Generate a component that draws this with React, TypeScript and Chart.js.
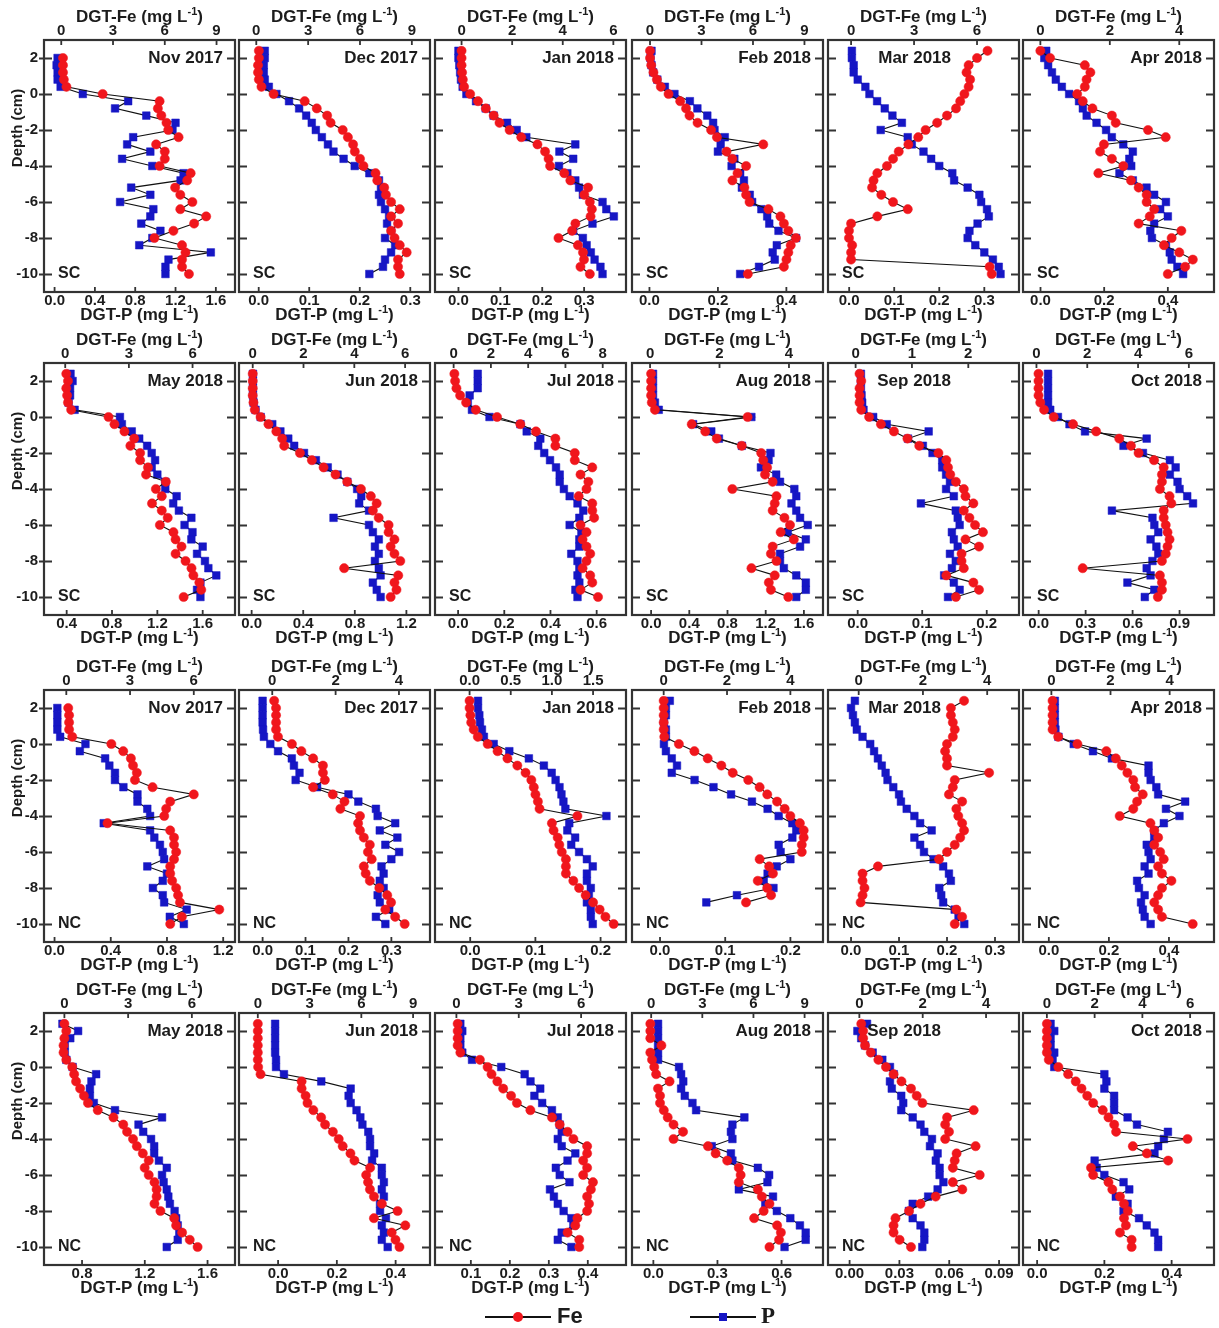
import React, { useEffect, useRef } from 'react';
import { Chart, registerables } from 'chart.js';

Chart.register(...registerables);

const FONT = '"Liberation Sans", Arial, Helvetica, sans-serif';
Chart.defaults.font.family = FONT;

const RED = '#f0161c';
const BLUE = '#1616c4';
const INK = '#1c1c1c';
const FRAME = '#333333';

// sampling depths (cm), shared by every profile
const DEPTHS = [2.4, 2.0, 1.6, 1.2, 0.8, 0.4, 0.0, -0.4, -0.8, -1.2, -1.6, -2.0, -2.4, -2.8, -3.2, -3.6,
  -4.0, -4.4, -4.8, -5.2, -5.6, -6.0, -6.4, -6.8, -7.2, -7.6, -8.0, -8.4, -8.8, -9.2, -9.6, -10.0];
const DEPTH_TICKS = [2, 0, -2, -4, -6, -8, -10];
const MONTHS = ['Nov 2017', 'Dec 2017', 'Jan 2018', 'Feb 2018', 'Mar 2018', 'Apr 2018',
  'May 2018', 'Jun 2018', 'Jul 2018', 'Aug 2018', 'Sep 2018', 'Oct 2018'];
const SITES = ['SC', 'NC'];

// ---------- SC ----------
const feSC_Nov17 = [null, 0.1, 0.1, 0.1, 0.15, 0.3, 2.4, 5.7, 5.6, 5.8, 6.1, 6.2, 6.8, 5.5, 6.0, 6.0, 5.7, 7.5, 7.3, 6.6, 6.9, 7.6, 6.9, 8.4, 7.7, 6.5, 5.4, 7.0, 7.2, 7.0, 7.0, 7.4];
const pSC_Nov17 = [null, 0.03, 0.02, 0.03, 0.03, 0.06, 0.28, 0.73, 0.6, 0.91, 1.2, 1.17, 0.78, 0.72, 0.95, 0.67, 0.97, 1.28, 1.25, 0.76, 0.95, 0.65, 0.98, 0.95, 0.86, 1.05, 0.97, 0.84, 1.55, 1.13, 1.1, 1.1];
const feSC_Dec17 = [0.15, 0.15, 0.1, 0.1, 0.15, 0.3, 1.0, 2.8, 3.5, 4.1, 4.3, 5.0, 5.3, 5.6, 5.7, 6.0, 6.2, 6.9, 7.0, 7.4, 7.5, 7.8, 8.3, 7.8, 8.2, 7.8, 8.0, 8.3, 8.7, 8.2, 8.2, 8.3];
const pSC_Dec17 = [0.012, 0.012, 0.01, 0.01, 0.012, 0.02, 0.035, 0.06, 0.08, 0.094, 0.105, 0.113, 0.125, 0.137, 0.148, 0.168, 0.19, 0.219, 0.238, 0.242, 0.238, 0.242, 0.25, 0.258, 0.254, 0.262, 0.25, 0.27, 0.262, 0.25, 0.246, 0.219];
const feSC_Jan18 = [0.0, 0.0, 0.0, 0.02, 0.05, 0.1, 0.34, 0.65, 0.96, 1.27, 1.5, 1.9, 2.36, 3.0, 3.3, 3.44, 3.5, 4.06, 4.3, 5.0, 4.85, 5.07, 5.15, 5.1, 4.5, 4.37, 3.83, 4.6, 4.8, 4.84, 4.7, 5.07];
const pSC_Jan18 = [0.0, 0.0, 0.002, 0.004, 0.006, 0.01, 0.019, 0.042, 0.065, 0.084, 0.116, 0.139, 0.162, 0.279, 0.241, 0.274, 0.24, 0.26, 0.279, 0.288, 0.297, 0.344, 0.353, 0.371, 0.32, 0.274, 0.297, 0.306, 0.316, 0.325, 0.339, 0.344];
const feSC_Feb18 = [0.0, 0.0, 0.07, 0.2, 0.4, 0.63, 1.08, 1.76, 2.1, 2.3, 2.77, 3.56, 3.9, 6.6, 4.46, 4.8, 5.6, 5.1, 4.8, 5.5, 5.6, 5.8, 6.9, 7.6, 7.8, 8.06, 8.5, 8.2, 8.06, 7.95, 7.8, 5.7];
const pSC_Feb18 = [0.006, 0.003, 0.006, 0.011, 0.023, 0.045, 0.073, 0.118, 0.14, 0.169, 0.186, 0.19, 0.22, 0.208, 0.2, 0.248, 0.24, 0.265, 0.276, 0.27, 0.293, 0.3, 0.327, 0.344, 0.35, 0.377, 0.428, 0.372, 0.36, 0.366, 0.32, 0.265];
const feSC_Mar18 = [6.5, 6.0, 5.6, 5.5, 5.67, 5.6, 5.4, 5.2, 5.0, 4.57, 4.1, 3.55, 3.2, 2.73, 2.27, 2.0, 1.71, 1.25, 1.07, 1.0, 1.44, 2.0, 2.7, 1.25, 0.0, -0.1, -0.1, 0.05, 0.0, 0.0, 6.6, 6.7];
const pSC_Mar18 = [0.006, 0.006, 0.01, 0.01, 0.019, 0.036, 0.045, 0.062, 0.079, 0.096, 0.117, 0.07, 0.13, 0.139, 0.165, 0.182, 0.2, 0.229, 0.233, 0.263, 0.289, 0.293, 0.306, 0.31, 0.285, 0.267, 0.263, 0.28, 0.3, 0.319, 0.332, 0.336];
const feSC_Apr18 = [0.0, 0.28, 1.28, 1.44, 1.33, 1.28, 1.06, 1.22, 1.5, 2.06, 2.17, 3.1, 3.61, 1.83, 1.72, 2.06, 2.39, 1.67, 2.61, 2.83, 3.06, 3.06, 3.28, 3.15, 2.83, 4.06, 3.78, 3.56, 4.0, 4.39, 4.17, 3.67];
const pSC_Apr18 = [0.018, 0.012, 0.024, 0.036, 0.048, 0.067, 0.09, 0.121, 0.133, 0.145, 0.176, 0.206, 0.224, 0.26, 0.29, 0.279, 0.285, 0.248, 0.29, 0.333, 0.357, 0.394, 0.376, 0.4, 0.357, 0.345, 0.35, 0.394, 0.406, 0.412, 0.43, 0.448];
const feSC_May18 = [0.05, 0.13, 0.05, 0.09, 0.13, 0.28, 2.04, 2.32, 2.79, 3.25, 3.07, 3.53, 3.53, 3.9, 3.81, 4.74, 4.27, 4.55, 4.09, 4.55, 4.83, 4.46, 5.1, 5.2, 5.48, 5.2, 5.67, 5.95, 6.04, 6.32, 6.41, 5.58];
const pSC_May18 = [0.434, 0.452, 0.43, 0.43, 0.417, 0.47, 0.87, 0.887, 0.974, 1.04, 1.11, 1.15, 1.18, 1.15, 1.2, 1.27, 1.27, 1.37, 1.34, 1.39, 1.5, 1.44, 1.51, 1.5, 1.6, 1.55, 1.62, 1.65, 1.72, 1.58, 1.55, 1.58];
const feSC_Jun18 = [0.0, 0.0, 0.0, 0.0, 0.03, 0.08, 0.31, 0.62, 0.93, 1.16, 1.24, 1.86, 2.33, 2.79, 3.26, 3.72, 4.26, 4.65, 4.88, 4.73, 4.96, 5.35, 5.35, 5.58, 5.43, 5.58, 5.81, 3.6, 5.73, 5.58, 5.66, 5.43];
const pSC_Jun18 = [0.01, 0.01, 0.01, 0.01, 0.015, 0.03, 0.07, 0.16, 0.223, 0.284, 0.33, 0.406, 0.498, 0.59, 0.666, 0.742, 0.818, 0.85, 0.834, 0.91, 0.635, 0.91, 0.94, 0.986, 0.956, 0.986, 0.956, 0.986, 1.0, 0.94, 0.97, 1.0];
const feSC_Jul18 = [0.04, 0.08, 0.15, 0.35, 0.67, 1.19, 2.33, 3.58, 4.42, 5.46, 5.46, 6.5, 6.5, 7.44, 6.81, 7.23, 7.13, 6.71, 7.44, 7.44, 7.54, 6.81, 7.13, 6.92, 7.13, 7.33, 7.13, 6.92, 7.33, 7.44, 6.81, 7.75];
const pSC_Jul18 = [0.085, 0.085, 0.085, 0.05, 0.042, 0.06, 0.136, 0.27, 0.297, 0.356, 0.347, 0.373, 0.398, 0.424, 0.44, 0.44, 0.458, 0.483, 0.517, 0.542, 0.525, 0.483, 0.534, 0.525, 0.525, 0.49, 0.517, 0.525, 0.517, 0.525, 0.508, 0.517];
const feSC_Aug18 = [0.03, 0.03, 0.03, 0.03, 0.05, 0.14, 2.81, 1.2, 1.59, 1.92, 2.64, 3.2, 3.26, 3.37, 3.31, 3.53, 2.37, 3.64, 3.59, 3.53, 3.87, 4.03, 3.76, 4.14, 3.53, 3.48, 3.64, 2.92, 3.59, 3.42, 3.48, 3.98];
const pSC_Aug18 = [0.02, 0.02, 0.02, 0.02, 0.04, 0.08, 1.05, 0.44, 0.63, 0.71, 0.95, 1.25, 1.23, 1.15, 1.31, 1.35, 1.5, 1.52, 1.47, 1.52, 1.56, 1.64, 1.43, 1.62, 1.56, 1.35, 1.35, 1.39, 1.52, 1.62, 1.62, 1.52];
const feSC_Sep18 = [0.07, 0.1, 0.07, 0.07, 0.07, 0.1, 0.24, 0.45, 0.68, 0.92, 1.13, 1.47, 1.61, 1.64, 1.68, 1.78, 1.92, 1.95, 2.09, 1.92, 2.02, 2.12, 2.26, 1.95, 2.19, 1.88, 1.88, 1.92, 1.61, 2.09, 2.19, 1.78];
const pSC_Sep18 = [0.005, 0.005, 0.005, 0.006, 0.007, 0.009, 0.024, 0.045, 0.11, 0.078, 0.101, 0.116, 0.131, 0.131, 0.137, 0.143, 0.137, 0.149, 0.098, 0.152, 0.155, 0.158, 0.146, 0.149, 0.155, 0.143, 0.152, 0.146, 0.134, 0.149, 0.158, 0.14];
const feSC_Oct18 = [0.08, 0.08, 0.08, 0.08, 0.15, 0.3, 0.68, 1.44, 2.35, 3.26, 3.72, 4.02, 4.63, 5.01, 4.94, 4.94, 4.86, 5.24, 5.31, 5.01, 5.01, 5.09, 5.16, 5.24, 5.16, 5.09, 4.94, 1.82, 4.86, 4.94, 4.94, 4.78];
const pSC_Oct18 = [0.06, 0.06, 0.06, 0.06, 0.06, 0.074, 0.123, 0.197, 0.296, 0.69, 0.542, 0.666, 0.838, 0.875, 0.838, 0.887, 0.9, 0.949, 0.986, 0.468, 0.727, 0.739, 0.764, 0.715, 0.752, 0.764, 0.727, 0.69, 0.715, 0.567, 0.739, 0.678];

// ---------- NC ----------
const feNC_Nov17 = [null, 0.09, 0.13, 0.13, 0.13, 0.28, 2.12, 2.68, 3.04, 3.14, 3.32, 3.23, 4.06, 6.0, 4.89, 4.7, 4.61, 1.94, 4.89, 5.07, 5.07, 5.17, 5.07, 4.89, 4.89, 4.98, 5.17, 5.26, 5.35, 7.2, 5.44, 4.89];
const pNC_Nov17 = [null, 0.02, 0.02, 0.02, 0.02, 0.04, 0.22, 0.18, 0.36, 0.39, 0.43, 0.43, 0.49, 0.59, 0.59, 0.66, 0.68, 0.35, 0.68, 0.71, 0.75, 0.77, 0.78, 0.66, 0.8, 0.77, 0.7, 0.77, 0.78, 0.94, 0.82, 0.92];
const feNC_Dec17 = [0.06, 0.12, 0.12, 0.12, 0.12, 0.18, 0.62, 0.92, 1.29, 1.6, 1.6, 1.66, 1.29, 1.91, 2.28, 2.15, 2.77, 2.71, 2.77, 2.89, 3.08, 3.02, 3.14, 2.89, 2.95, 3.08, 3.38, 3.63, 3.75, 3.57, 3.88, 4.18];
const pNC_Dec17 = [0.0, 0.0, 0.0, 0.0, 0.001, 0.003, 0.018, 0.036, 0.068, 0.073, 0.086, 0.077, 0.127, 0.2, 0.223, 0.264, 0.268, 0.309, 0.273, 0.314, 0.286, 0.318, 0.3, 0.277, 0.282, 0.273, 0.282, 0.268, 0.273, 0.295, 0.264, 0.286];
const feNC_Jan18 = [0.0, 0.0, 0.01, 0.02, 0.05, 0.1, 0.22, 0.34, 0.46, 0.58, 0.68, 0.75, 0.78, 0.8, 0.83, 0.85, 1.31, 1.0, 1.02, 1.07, 1.09, 1.12, 1.17, 1.17, 1.17, 1.26, 1.33, 1.41, 1.5, 1.58, 1.65, 1.75];
const pNC_Jan18 = [0.012, 0.012, 0.014, 0.015, 0.018, 0.021, 0.036, 0.06, 0.09, 0.113, 0.125, 0.131, 0.137, 0.14, 0.143, 0.146, 0.209, 0.152, 0.149, 0.161, 0.155, 0.167, 0.179, 0.188, 0.179, 0.179, 0.185, 0.182, 0.179, 0.185, 0.185, 0.188];
const feNC_Feb18 = [0.0, 0.0, 0.0, 0.0, 0.0, 0.02, 0.48, 0.97, 1.39, 1.82, 2.18, 2.67, 3.03, 3.27, 3.58, 3.82, 4.0, 4.3, 4.42, 4.42, 4.36, 4.36, 3.03, 3.33, 3.45, 2.97, 3.27, 3.39, 2.6, null, null, null];
const pNC_Feb18 = [0.015, 0.009, 0.009, 0.006, 0.009, 0.009, 0.006, 0.009, 0.018, 0.026, 0.018, 0.053, 0.082, 0.109, 0.141, 0.165, 0.182, 0.203, 0.209, 0.203, 0.182, 0.185, 0.2, 0.179, 0.165, 0.159, 0.174, 0.118, 0.071, null, null, null];
const feNC_Mar18 = [3.28, 2.87, 2.87, 2.93, 2.99, 2.93, 2.75, 2.69, 2.75, 2.75, 4.06, 2.99, 2.93, 2.81, 3.22, 3.04, 3.1, 3.22, 3.28, 3.16, 2.99, 2.75, 2.5, 0.6, 0.12, 0.12, 0.18, 0.12, 0.06, 3.04, 3.22, 2.99];
const pNC_Mar18 = [0.008, 0.0, 0.004, 0.008, 0.012, 0.024, 0.04, 0.048, 0.056, 0.064, 0.072, 0.076, 0.088, 0.1, 0.104, 0.116, 0.132, 0.144, 0.168, 0.132, 0.144, 0.152, 0.172, 0.192, 0.204, 0.208, 0.184, 0.188, 0.192, 0.216, 0.224, 0.236];
const feNC_Apr18 = [0.04, 0.04, 0.04, 0.04, 0.04, 0.23, 0.88, 1.86, 2.18, 2.38, 2.57, 2.77, 2.83, 3.09, 2.9, 2.77, 2.31, 3.35, 3.48, 3.61, 3.48, 3.68, 3.8, 3.61, 3.74, 4.06, 3.74, 3.61, 3.48, 3.61, 3.74, 4.78];
const pNC_Apr18 = [0.02, 0.02, 0.02, 0.02, 0.022, 0.032, 0.083, 0.147, 0.21, 0.332, 0.332, 0.339, 0.358, 0.364, 0.454, 0.39, 0.435, 0.383, 0.351, 0.351, 0.326, 0.332, 0.339, 0.319, 0.332, 0.294, 0.3, 0.319, 0.307, 0.313, 0.319, 0.339];
const feNC_May18 = [0.0, 0.09, 0.0, -0.04, -0.04, 0.09, 0.37, 0.46, 0.55, 0.74, 0.92, 1.11, 1.57, 2.31, 2.77, 2.95, 3.23, 3.41, 3.69, 3.97, 3.78, 3.97, 4.24, 4.34, 4.34, 4.24, 4.52, 5.17, 5.26, 5.54, 5.9, 6.27];
const pNC_May18 = [0.675, 0.775, 0.725, 0.69, 0.69, 0.7, 0.74, 0.89, 0.86, 0.85, 0.85, 0.875, 1.01, 1.31, 1.16, 1.19, 1.24, 1.26, 1.26, 1.29, 1.34, 1.31, 1.32, 1.34, 1.35, 1.36, 1.39, 1.4, 1.41, 1.42, 1.41, 1.34];
const feNC_Jun18 = [0.0, 0.0, 0.0, 0.0, 0.0, 0.0, 0.02, 0.16, 2.54, 2.54, 2.77, 2.88, 3.22, 3.67, 3.9, 4.35, 4.69, 4.92, 5.37, 5.6, 6.51, 6.28, 6.39, 6.5, 6.73, 7.19, 8.1, 6.73, 8.55, 7.76, 7.98, 8.21];
const pNC_Jun18 = [-0.01, -0.01, -0.01, -0.01, -0.01, -0.007, -0.007, 0.02, 0.147, 0.247, 0.24, 0.247, 0.267, 0.28, 0.287, 0.307, 0.313, 0.313, 0.327, 0.32, 0.353, 0.353, 0.36, 0.353, 0.36, 0.347, 0.347, 0.367, 0.353, 0.36, 0.353, 0.373];
const feNC_Jul18 = [0.06, 0.06, 0.06, 0.06, 0.19, 1.13, 1.5, 1.69, 1.97, 2.25, 2.63, 2.91, 3.56, 4.6, 4.97, 5.35, 5.63, 6.29, 6.29, 6.1, 6.29, 6.1, 6.57, 6.47, 6.29, 6.38, 6.29, 5.82, 5.72, 5.35, 5.91, 5.91];
const pNC_Jul18 = [0.073, 0.078, 0.073, 0.073, 0.078, 0.103, 0.178, 0.238, 0.253, 0.278, 0.263, 0.283, 0.308, 0.323, 0.328, 0.333, 0.323, 0.333, 0.368, 0.348, 0.318, 0.328, 0.353, 0.303, 0.313, 0.323, 0.338, 0.358, 0.363, 0.333, 0.323, 0.358];
const feNC_Aug18 = [-0.05, -0.05, -0.05, 0.6, -0.05, 0.05, 0.18, 0.29, 1.08, 0.4, 0.52, 0.52, 0.74, 0.97, 1.31, 1.87, 1.31, 3.33, 3.78, 4.46, 5.14, 5.25, 5.14, 6.26, 6.49, 6.94, 6.6, 6.04, 7.39, 7.61, 7.5, 6.94];
const pNC_Aug18 = [0.022, 0.022, 0.022, 0.022, 0.022, 0.022, 0.12, 0.13, 0.14, 0.13, 0.147, 0.183, 0.2, 0.426, 0.37, 0.363, 0.37, 0.273, 0.363, 0.37, 0.489, 0.542, 0.534, 0.4, 0.56, 0.524, 0.578, 0.641, 0.686, 0.713, 0.713, 0.614];
const feNC_Sep18 = [0.06, 0.12, 0.12, 0.18, 0.36, 0.6, 0.84, 1.08, 1.33, 1.63, 1.81, 1.99, 3.61, 2.77, 2.71, 2.83, 2.71, 3.67, 3.07, 3.01, 2.95, 3.8, 2.95, 3.25, 2.41, 1.93, 1.57, 1.14, 1.08, 1.08, 1.27, 1.63];
const pNC_Sep18 = [0.0105, 0.0047, 0.007, 0.0093, 0.0139, 0.0197, 0.0243, 0.0266, 0.0243, 0.0254, 0.0311, 0.0323, 0.0311, 0.038, 0.0427, 0.045, 0.0496, 0.0484, 0.053, 0.0519, 0.0542, 0.0542, 0.0565, 0.053, 0.0473, 0.038, 0.0357, 0.038, 0.0427, 0.045, 0.045, 0.0438];
const feNC_Oct18 = [0.0, 0.0, 0.0, 0.0, 0.0, 0.08, 0.48, 0.89, 1.21, 1.45, 1.69, 1.94, 2.34, 2.58, 2.82, 2.9, 5.89, 3.6, 4.19, 5.08, 1.85, 1.94, 2.58, 2.74, 3.06, 3.23, 3.39, 3.23, 3.31, 3.06, 3.55, 3.55];
const pNC_Oct18 = [0.04, 0.051, 0.04, 0.04, 0.051, 0.046, 0.051, 0.2, 0.206, 0.2, 0.229, 0.229, 0.229, 0.269, 0.297, 0.389, 0.377, 0.36, 0.349, 0.171, 0.177, 0.2, 0.257, 0.274, 0.234, 0.269, 0.257, 0.303, 0.326, 0.349, 0.36, 0.36];

// axis ranges and tick labels of each panel (row-major)
const FE_SERIES = [feSC_Nov17, feSC_Dec17, feSC_Jan18, feSC_Feb18, feSC_Mar18, feSC_Apr18,
  feSC_May18, feSC_Jun18, feSC_Jul18, feSC_Aug18, feSC_Sep18, feSC_Oct18,
  feNC_Nov17, feNC_Dec17, feNC_Jan18, feNC_Feb18, feNC_Mar18, feNC_Apr18,
  feNC_May18, feNC_Jun18, feNC_Jul18, feNC_Aug18, feNC_Sep18, feNC_Oct18];
const P_SERIES = [pSC_Nov17, pSC_Dec17, pSC_Jan18, pSC_Feb18, pSC_Mar18, pSC_Apr18,
  pSC_May18, pSC_Jun18, pSC_Jul18, pSC_Aug18, pSC_Sep18, pSC_Oct18,
  pNC_Nov17, pNC_Dec17, pNC_Jan18, pNC_Feb18, pNC_Mar18, pNC_Apr18,
  pNC_May18, pNC_Jun18, pNC_Jul18, pNC_Aug18, pNC_Sep18, pNC_Oct18];
const FE_RANGE = [[-1, 10.07], [-1, 10.05], [-1.05, 6.5], [-1.05, 10.08], [-1.1, 8.0], [-0.5, 5.0],
  [-1, 8], [-0.54, 6.98], [-1, 9.25], [-0.52, 4.98], [-0.49, 2.9], [-0.53, 6.99],
  [-1.05, 7.94], [-1.05, 4.98], [-0.42, 1.9], [-1.0, 5.03], [-0.955, 4.99], [-0.96, 5.5],
  [-0.96, 8.03], [-1.09, 9.98], [-1.03, 8.16], [-1.125, 10.08], [-0.99, 5.04], [-1.0, 7.0]];
const FE_TICKS = [[0, 3, 6, 9], [0, 3, 6, 9], [0, 2, 4, 6], [0, 3, 6, 9], [0, 3, 6], [0, 2, 4],
  [0, 3, 6], [0, 2, 4, 6], [0, 2, 4, 6, 8], [0, 2, 4], [0, 1, 2], [0, 2, 4, 6],
  [0, 3, 6], [0, 2, 4], [0, 0.5, 1.0, 1.5], [0, 2, 4], [0, 2, 4], [0, 2, 4],
  [0, 3, 6], [0, 3, 6, 9], [0, 3, 6], [0, 3, 6, 9], [0, 2, 4], [0, 2, 4, 6]];
const FE_DEC = [0, 0, 0, 0, 0, 0, 0, 0, 0, 0, 0, 0, 0, 0, 1, 0, 0, 0, 0, 0, 0, 0, 0, 0];
const P_RANGE = [[-0.105, 1.79], [-0.039, 0.339], [-0.056, 0.4], [-0.051, 0.507], [-0.047, 0.377], [-0.055, 0.545],
  [0.2, 1.885], [-0.098, 1.383], [-0.1, 0.727], [-0.2, 1.8], [-0.046, 0.25], [-0.1, 1.12],
  [-0.075, 1.284], [-0.055, 0.39], [-0.054, 0.239], [-0.043, 0.25], [-0.048, 0.35], [-0.086, 0.55],
  [0.5575, 1.775], [-0.133, 0.517], [0.008, 0.498], [-0.1, 0.794], [-0.013, 0.102], [-0.042, 0.526]];
const P_TICKS = [[0, 0.4, 0.8, 1.2, 1.6], [0, 0.1, 0.2, 0.3], [0, 0.1, 0.2, 0.3], [0, 0.2, 0.4], [0, 0.1, 0.2, 0.3], [0, 0.2, 0.4],
  [0.4, 0.8, 1.2, 1.6], [0, 0.4, 0.8, 1.2], [0, 0.2, 0.4, 0.6], [0, 0.4, 0.8, 1.2, 1.6], [0, 0.1, 0.2], [0, 0.3, 0.6, 0.9],
  [0, 0.4, 0.8, 1.2], [0, 0.1, 0.2, 0.3], [0, 0.1, 0.2], [0, 0.1, 0.2], [0, 0.1, 0.2, 0.3], [0, 0.2, 0.4],
  [0.8, 1.2, 1.6], [0, 0.2, 0.4], [0.1, 0.2, 0.3, 0.4], [0, 0.3, 0.6], [0, 0.03, 0.06, 0.09], [0, 0.2, 0.4]];
const P_DEC = [1, 1, 1, 1, 1, 1, 1, 1, 1, 1, 1, 1, 1, 1, 1, 1, 1, 1, 1, 1, 1, 1, 2, 1];

// layout
const COL_LEFT = [44, 239, 435, 632, 828, 1023];
const ROW_TOP = [40, 363, 690, 1013];
const FRAME_W = 191;
const FRAME_H = 252;
const TOP_H = 40;
const BOT_H = 40;
const RIGHT_PAD = 24;

function drawAxisTitle(ctx: CanvasRenderingContext2D, cx: number, cy: number, base: string) {
  const mainFont = `bold 17px ${FONT}`;
  const supFont = `bold 11px ${FONT}`;
  const a = `${base} (mg L`;
  const s = '-1';
  const c = ')';
  ctx.font = mainFont;
  const wa = ctx.measureText(a).width;
  const wc = ctx.measureText(c).width;
  ctx.font = supFont;
  const ws = ctx.measureText(s).width;
  let x = cx - (wa + ws + wc) / 2;
  ctx.textAlign = 'left';
  ctx.textBaseline = 'middle';
  ctx.font = mainFont;
  ctx.fillText(a, x, cy);
  x += wa;
  ctx.font = supFont;
  ctx.fillText(s, x, cy - 5);
  x += ws;
  ctx.font = mainFont;
  ctx.fillText(c, x, cy);
}

const decorPlugin = {
  id: 'panelDecor',
  afterDraw(chart: any, _args: any, opts: any) {
    const { ctx, chartArea: a, scales } = chart;
    const ys = scales.y;
    const xf = scales.xFe;
    const xp = scales.xP;
    ctx.save();
    ctx.strokeStyle = FRAME;
    ctx.lineWidth = 1.8;
    ctx.beginPath();
    for (const v of DEPTH_TICKS) {
      const py = Math.round(ys.getPixelForValue(v)) + 0.5;
      ctx.moveTo(a.left - (opts.col === 0 ? 5 : 0), py);
      ctx.lineTo(a.left + 8, py);
      ctx.moveTo(a.right - 8, py);
      ctx.lineTo(a.right, py);
    }
    for (const v of opts.feTicks) {
      const px = xf.getPixelForValue(v);
      ctx.moveTo(px, a.top);
      ctx.lineTo(px, a.top + 5);
    }
    for (const v of opts.pTicks) {
      const px = xp.getPixelForValue(v);
      ctx.moveTo(px, a.bottom);
      ctx.lineTo(px, a.bottom - 5);
    }
    ctx.stroke();
    ctx.lineWidth = 2.2;
    ctx.strokeRect(a.left, a.top, a.right - a.left, a.bottom - a.top);

    ctx.fillStyle = INK;
    const cx = (a.left + a.right) / 2;
    drawAxisTitle(ctx, cx, a.top - 23, 'DGT-Fe');
    drawAxisTitle(ctx, cx, a.bottom + 23, 'DGT-P');

    ctx.font = `bold 17px ${FONT}`;
    ctx.textAlign = 'right';
    ctx.textBaseline = 'middle';
    ctx.fillText(opts.month, a.right - opts.monthInset, ys.getPixelForValue(2));

    ctx.font = `bold 16px ${FONT}`;
    ctx.textAlign = 'left';
    ctx.fillText(opts.site, a.left + 14, ys.getPixelForValue(-10));

    if (opts.col === 0) {
      ctx.save();
      ctx.translate(a.left - 26, a.top + 88);
      ctx.rotate(-Math.PI / 2);
      ctx.font = `bold 15px ${FONT}`;
      ctx.textAlign = 'center';
      ctx.textBaseline = 'middle';
      ctx.fillText('Depth (cm)', 0, 0);
      ctx.restore();
    }
    ctx.restore();
  },
};

function toPoints(vals: (number | null)[]) {
  const pts: { x: number; y: number }[] = [];
  vals.forEach((v, i) => {
    if (v !== null && v !== undefined) pts.push({ x: v, y: DEPTHS[i] });
  });
  return pts;
}

function Panel({ idx }: { idx: number }) {
  const ref = useRef<HTMLCanvasElement | null>(null);
  const row = Math.floor(idx / 6);
  const col = idx % 6;
  const leftW = col === 0 ? 44 : 24;
  const width = leftW + FRAME_W + RIGHT_PAD;
  const height = TOP_H + FRAME_H + BOT_H;
  const month = MONTHS[(row % 2) * 6 + col];
  const site = SITES[row < 2 ? 0 : 1];
  const monthInset = col === 4 ? (row < 2 ? 68 : 78) : 12;

  useEffect(() => {
    if (!ref.current) return;
    const feTicks = FE_TICKS[idx];
    const pTicks = P_TICKS[idx];
    const feDec = FE_DEC[idx];
    const pDec = P_DEC[idx];
    const tickFont = { size: 15, weight: 'bold' as const, family: FONT };
    const chart = new Chart(ref.current, {
      type: 'scatter',
      data: {
        datasets: [
          {
            label: 'Fe',
            data: toPoints(FE_SERIES[idx]),
            xAxisID: 'xFe',
            yAxisID: 'y',
            showLine: true,
            borderColor: '#111111',
            borderWidth: 1.1,
            pointStyle: 'circle',
            pointRadius: 4.6,
            pointBackgroundColor: RED,
            pointBorderColor: RED,
            pointBorderWidth: 0.5,
          },
          {
            label: 'P',
            data: toPoints(P_SERIES[idx]),
            xAxisID: 'xP',
            yAxisID: 'y',
            showLine: true,
            borderColor: '#111111',
            borderWidth: 1.1,
            pointStyle: 'rect',
            pointRadius: 5.4,
            pointBackgroundColor: BLUE,
            pointBorderColor: BLUE,
            pointBorderWidth: 0.5,
          },
        ],
      },
      options: {
        animation: false,
        responsive: false,
        maintainAspectRatio: false,
        devicePixelRatio: 1,
        events: [],
        layout: { autoPadding: false, padding: { left: 0, right: RIGHT_PAD, top: 0, bottom: 0 } },
        plugins: {
          legend: { display: false },
          tooltip: { enabled: false },
          panelDecor: { col, month, site, monthInset, feTicks, pTicks },
        } as any,
        scales: {
          xFe: {
            type: 'linear',
            position: 'top',
            min: FE_RANGE[idx][0],
            max: FE_RANGE[idx][1],
            grid: { display: false, drawTicks: false },
            border: { display: false },
            ticks: {
              font: tickFont,
              color: INK,
              padding: 0,
              autoSkip: false,
              maxRotation: 0,
              minRotation: 0,
              callback: (v: any) => Number(v).toFixed(feDec),
            },
            afterBuildTicks: (s: any) => {
              s.ticks = feTicks.map((v) => ({ value: v }));
            },
            afterFit: (s: any) => {
              s.height = TOP_H;
            },
          },
          xP: {
            type: 'linear',
            position: 'bottom',
            min: P_RANGE[idx][0],
            max: P_RANGE[idx][1],
            grid: { display: false, drawTicks: false },
            border: { display: false },
            ticks: {
              font: tickFont,
              color: INK,
              padding: 0,
              autoSkip: false,
              maxRotation: 0,
              minRotation: 0,
              callback: (v: any) => Number(v).toFixed(pDec),
            },
            afterBuildTicks: (s: any) => {
              s.ticks = pTicks.map((v) => ({ value: v }));
            },
            afterFit: (s: any) => {
              s.height = BOT_H;
            },
          },
          y: {
            type: 'linear',
            position: 'left',
            min: -11,
            max: 3,
            grid: { display: false, drawTicks: false },
            border: { display: false },
            ticks: {
              display: col === 0,
              font: tickFont,
              color: INK,
              padding: 6,
              autoSkip: false,
              callback: (v: any) => String(v),
            },
            afterBuildTicks: (s: any) => {
              s.ticks = DEPTH_TICKS.map((v) => ({ value: v }));
            },
            afterFit: (s: any) => {
              s.width = leftW;
            },
          },
        },
      },
      plugins: [decorPlugin],
    });
    return () => chart.destroy();
  }, [idx]);

  return (
    <canvas
      ref={ref}
      width={width}
      height={height}
      style={{
        position: 'absolute',
        left: COL_LEFT[col] - leftW,
        top: ROW_TOP[row] - TOP_H,
        width,
        height,
      }}
    />
  );
}

function Legend() {
  const lineStyle = (left: number): React.CSSProperties => ({
    position: 'absolute', left, top: 1316, width: 66, height: 2, background: '#111',
  });
  return (
    <>
      <div style={lineStyle(485)} />
      <div style={{ position: 'absolute', left: 513, top: 1312, width: 10, height: 10, borderRadius: '50%', background: RED }} />
      <div style={{ position: 'absolute', left: 557, top: 1303, height: 28, lineHeight: '28px', font: `bold 22px ${FONT}`, color: INK }}>Fe</div>
      <div style={lineStyle(690)} />
      <div style={{ position: 'absolute', left: 719, top: 1313, width: 8, height: 8, background: BLUE }} />
      <div style={{ position: 'absolute', left: 761, top: 1303, height: 28, lineHeight: '28px', font: 'bold 23px "Liberation Serif", "Times New Roman", serif', color: INK }}>P</div>
    </>
  );
}

export default function App() {
  const idxs = Array.from({ length: 24 }, (_, i) => i);
  return (
    <div style={{ position: 'absolute', left: 0, top: 0, width: 1219, height: 1328, background: '#ffffff', overflow: 'hidden' }}>
      {idxs.map((i) => (
        <Panel key={i} idx={i} />
      ))}
      <Legend />
    </div>
  );
}
